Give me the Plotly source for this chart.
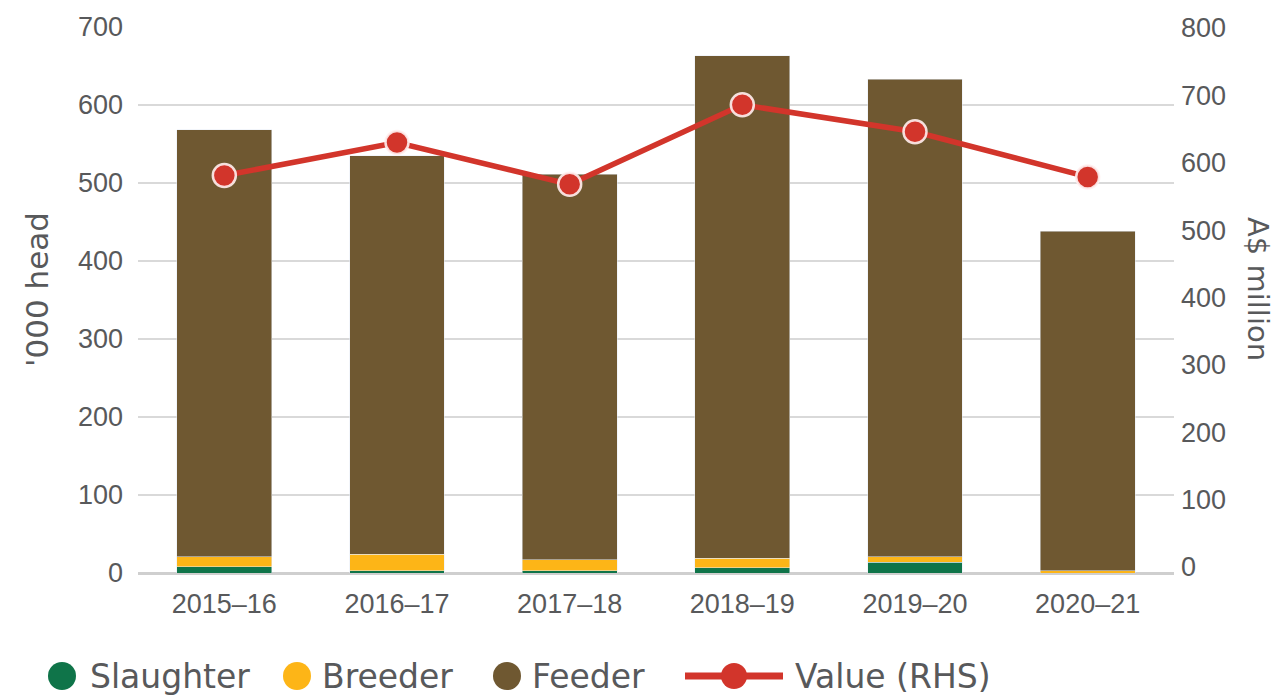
import plotly.graph_objects as go

categories = ["2015–16", "2016–17", "2017–18", "2018–19", "2019–20", "2020–21"]
slaughter = [8, 3, 3, 7, 14, 0]
breeder = [13, 21, 14, 12, 7, 3]
feeder = [547, 511, 494, 644, 612, 435]
value_rhs = [581, 630, 568, 686, 646, 579]

left_ticks = [0, 100, 200, 300, 400, 500, 600, 700]
right_ticks = [0, 100, 200, 300, 400, 500, 600, 700, 800]

GREEN = "#0f7449"
YELLOW = "#fdb517"
BROWN = "#6f5831"
RED = "#d2352b"
TXT = "#58595b"
GRID = "#d9d9d9"

W, H = 1287, 698
OFF = 8  # page body margin
# plot area in page pixels
PX0, PX1, PY0, PY1 = 138, 1174, 27, 573
L = PX0 - OFF
T = PY0 - OFF
R = W - (PX1 - OFF)
B = H - (PY1 - OFF)
PW, PH = PX1 - PX0, PY1 - PY0


def pxx(p):
    return (p - PX0) / PW


def pxy(p):
    return (PY1 - p) / PH


fig = go.Figure()
fig.add_trace(go.Bar(x=categories, y=slaughter, name="Slaughter", marker_color=GREEN, showlegend=False))
fig.add_trace(go.Bar(x=categories, y=breeder, name="Breeder", marker_color=YELLOW, showlegend=False))
fig.add_trace(go.Bar(x=categories, y=feeder, name="Feeder", marker_color=BROWN, showlegend=False))
fig.add_trace(go.Scatter(
    x=categories, y=value_rhs, name="Value (RHS)", yaxis="y2", mode="lines+markers",
    line=dict(color=RED, width=5.5),
    marker=dict(size=23, color=RED, line=dict(color="rgba(255,240,240,0.9)", width=2.5)),
    showlegend=False,
))

tickfont = dict(family="Liberation Sans, Arial, sans-serif", size=27, color=TXT)
titlefont = dict(family="DejaVu Sans, sans-serif", size=31, color=TXT)
legfont = dict(family="DejaVu Sans, sans-serif", size=33, color=TXT)

shapes = []
annotations = []

# custom legend
legend_items = [
    ("Slaughter", GREEN, 62, 88, "dot"),
    ("Breeder", YELLOW, 297, 320, "dot"),
    ("Feeder", BROWN, 507, 530, "dot"),
    ("Value (RHS)", RED, 734, 793, "line"),
]
ly = 676
for name, col, cx, tx, kind in legend_items:
    if kind == "line":
        shapes.append(dict(type="line", xref="paper", yref="paper",
                           x0=pxx(685), x1=pxx(783), y0=pxy(ly), y1=pxy(ly),
                           line=dict(color=col, width=7)))
        r = 13
    else:
        r = 14
    shapes.append(dict(type="circle", xref="paper", yref="paper",
                       x0=pxx(cx - r), x1=pxx(cx + r), y0=pxy(ly + r), y1=pxy(ly - r),
                       fillcolor=col, line=dict(width=0)))
    annotations.append(dict(text=name, xref="paper", yref="paper", x=pxx(tx), y=pxy(ly),
                            xanchor="left", yanchor="middle", showarrow=False, font=legfont))

annotations.append(dict(text="'000 head", xref="paper", yref="paper", x=pxx(37), y=pxy(290),
                        xanchor="center", yanchor="middle", textangle=-90, showarrow=False, font=titlefont))
annotations.append(dict(text="A$ million", xref="paper", yref="paper", x=pxx(1258), y=pxy(289),
                        xanchor="center", yanchor="middle", textangle=90, showarrow=False,
                        font=dict(family="DejaVu Sans, sans-serif", size=29, color=TXT)))

fig.update_layout(
    width=W, height=H,
    margin=dict(l=L, r=R, t=T, b=B, autoexpand=False),
    paper_bgcolor="white", plot_bgcolor="white",
    barmode="stack", bargap=0.45,
    showlegend=False,
    shapes=shapes, annotations=annotations,
    xaxis=dict(tickfont=tickfont, showgrid=False, showline=False, ticks="",
               ticklabelstandoff=12, range=[-0.5, 5.5]),
    yaxis=dict(range=[0, 700], tickvals=left_ticks, tickfont=tickfont, showgrid=True,
               gridcolor=GRID, gridwidth=1.5, zeroline=True, zerolinecolor="#cfcfcf",
               zerolinewidth=2.5, showline=False, ticks="",
               ticklabelstandoff=14),
    yaxis2=dict(range=[-8.9, 801.5], tickvals=right_ticks, tickfont=tickfont, overlaying="y",
                side="right", showgrid=False, zeroline=False, showline=False, ticks="",
                ticklabelstandoff=6),
)

fig.write_html("out.html")
